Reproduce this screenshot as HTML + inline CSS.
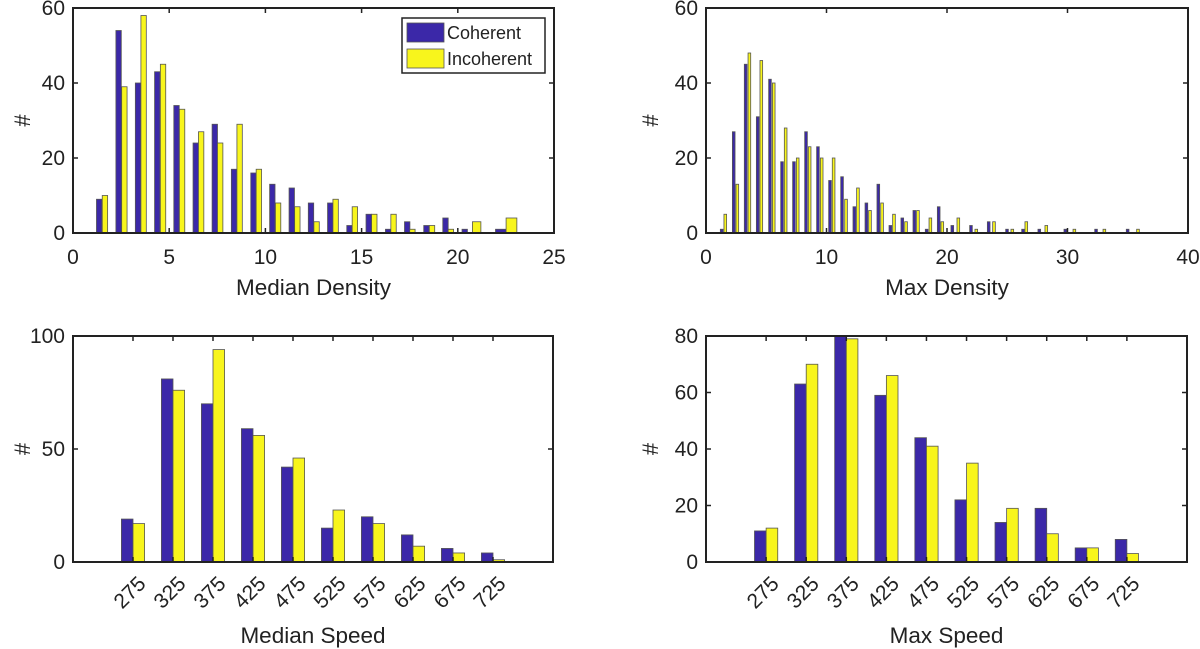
<!DOCTYPE html>
<html><head><meta charset="utf-8"><style>
body{margin:0;background:#fff;}
svg{display:block;font-family:"Liberation Sans",Arial,sans-serif;}
</style></head><body>
<svg id="fig" width="1200" height="649" viewBox="0 0 1200 649">
<g id="layer"></g>
</svg>
<script>
// ---- Median Density (top-left)
const mdCohX = [1.36,2.37,3.38,4.38,5.38,6.38,7.37,8.37,9.38,10.36,11.37,12.37,13.37,14.37,15.37,16.38,17.37,18.37,19.36,20.36,22.24];
const mdCohY = [9,54,40,43,34,24,29,17,16,13,12,8,8,2,5,1,3,2,4,1,1];
const mdCohW = [0.28,0.28,0.28,0.28,0.28,0.28,0.28,0.28,0.28,0.28,0.28,0.28,0.28,0.28,0.28,0.28,0.28,0.28,0.28,0.28,0.56];
const mdIncX = [1.66,2.67,3.67,4.68,5.67,6.66,7.65,8.66,9.66,10.66,11.66,12.66,13.65,14.65,15.66,16.66,17.64,18.66,19.64,20.98,22.79];
const mdIncY = [10,39,58,45,33,27,24,29,17,8,7,3,9,7,5,5,1,2,1,3,4];
const mdIncW = [0.28,0.28,0.28,0.28,0.28,0.28,0.28,0.28,0.28,0.28,0.28,0.28,0.28,0.28,0.28,0.28,0.28,0.28,0.28,0.44,0.56];
const mdXTicks = [0,5,10,15,20,25];
const mdYTicks = [0,20,40,60];
// ---- Max Density (top-right)
const xdCohX = [1.30,2.30,3.29,4.29,5.31,6.31,7.30,8.30,9.29,10.29,11.29,12.31,13.31,14.30,15.30,16.29,17.29,18.31,19.31,20.44,21.99,23.46,24.98,26.31,27.66,29.82,32.37,34.99];
const xdCohY = [1,27,45,31,41,19,19,27,23,14,15,7,8,13,2,4,6,1,7,2,2,3,1,1,1,1,1,1];
const xdIncX = [1.60,2.60,3.60,4.59,5.62,6.61,7.61,8.60,9.60,10.59,11.62,12.61,13.61,14.61,15.60,16.60,17.59,18.62,19.61,20.94,22.43,23.90,25.42,26.58,28.24,30.57,33.06,35.85];
const xdIncY = [5,13,48,46,40,28,20,23,20,20,9,12,6,8,5,3,6,4,3,4,1,3,1,3,2,1,1,1];
const xdXTicks = [0,10,20,30,40];
const xdYTicks = [0,20,40,60];
// ---- Speeds (bottom)
const speedCats = ["275","325","375","425","475","525","575","625","675","725"];
const msCoh = [19,81,70,59,42,15,20,12,6,4];
const msInc = [17,76,94,56,46,23,17,7,4,1];
const msYTicks = [0,50,100];
const xsCoh = [11,63,80,59,44,22,14,19,5,8];
const xsInc = [12,70,79,66,41,35,19,10,5,3];
const xsYTicks = [0,20,40,60,80];

const NS="http://www.w3.org/2000/svg";
const layer=document.getElementById('layer');
const BLUE="#3b28a8", YEL="#f8f51c", EDGE="#555";
function mk(tag,attrs,parent){const e=document.createElementNS(NS,tag);for(const k in attrs)e.setAttribute(k,attrs[k]);(parent||layer).appendChild(e);return e;}

function axes(name,L,R,T,B,xmin,xmax,ymin,ymax){
  const g=mk('g',{});
  
  
  const sx=v=>L+(v-xmin)/(xmax-xmin)*(R-L);
  const sy=v=>B-(v-ymin)/(ymax-ymin)*(B-T);
  return {g,sx,sy,L,R,T,B};
}
function frame(a){
  const r=mk('rect',{x:a.L,y:a.T,width:a.R-a.L,height:a.B-a.T,fill:'none',stroke:'#222','stroke-width':2},a.g);
  
  
}
function yTicks(a,ticks){
  ticks.forEach(t=>{
    const y=a.sy(t);
    mk('line',{x1:a.L,x2:a.L+5,y1:y,y2:y,stroke:'#222','stroke-width':1.5},a.g);
    mk('line',{x1:a.R,x2:a.R-5,y1:y,y2:y,stroke:'#222','stroke-width':1.5},a.g);
    const tx=mk('text',{x:a.L-8,y:y+7,'text-anchor':'end','font-size':21,fill:'#222'},a.g);
    tx.textContent=t;
    
    
  });
}
function xTicksNum(a,ticks){
  ticks.forEach(t=>{
    const x=a.sx(t);
    mk('line',{x1:x,x2:x,y1:a.B,y2:a.B-5,stroke:'#222','stroke-width':1.5},a.g);
    mk('line',{x1:x,x2:x,y1:a.T,y2:a.T+5,stroke:'#222','stroke-width':1.5},a.g);
    const tx=mk('text',{x:x,y:a.B+31,'text-anchor':'middle','font-size':21,fill:'#222'},a.g);
    tx.textContent=t;
    
    
  });
}
function labels(a,xl,yx,dy){
  const t=mk('text',{x:(a.L+a.R)/2,y:a.B+dy,'text-anchor':'middle','font-size':22.5,fill:'#222'},a.g);
  t.textContent=xl;
  
  
  const cy=(a.T+a.B)/2;
  const y=mk('text',{x:yx,y:cy,'text-anchor':'middle','font-size':22,fill:'#222',transform:`rotate(-90 ${yx} ${cy})`},a.g);
  y.textContent='#';
  
  
}
function bars(a,xs,ys,ws,color,series){
  xs.forEach((xv,i)=>{
    const x0=a.sx(xv-ws[i]/2), x1=a.sx(xv+ws[i]/2), y=a.sy(ys[i]);
    const r=mk('rect',{x:x0,y:y,width:x1-x0,height:a.B-y,fill:color,stroke:EDGE,'stroke-width':0.8},a.g);
    
    
  });
}

// Top-left
const a1=axes('median-density-plot',73,554,8,233,0,25,0,60);
bars(a1,mdCohX,mdCohY,mdCohW,BLUE,'coherent');
bars(a1,mdIncX,mdIncY,mdIncW,YEL,'incoherent');
frame(a1);yTicks(a1,mdYTicks);xTicksNum(a1,mdXTicks);labels(a1,'Median Density',30,62);
// legend
const lg=mk('g',{},a1.g);


mk('rect',{x:402,y:18,width:143,height:55,fill:'#fff',stroke:'#222','stroke-width':1.5},lg);
const p1=mk('rect',{x:407,y:23,width:37,height:19,fill:BLUE,stroke:EDGE,'stroke-width':0.8},lg);


const p2=mk('rect',{x:407,y:49,width:37,height:19,fill:YEL,stroke:EDGE,'stroke-width':0.8},lg);


const l1=mk('text',{x:447,y:39,'font-size':18,fill:'#222'},lg);l1.textContent='Coherent';


const l2=mk('text',{x:447,y:65,'font-size':18,fill:'#222'},lg);l2.textContent='Incoherent';



// Top-right
const a2=axes('max-density-plot',706,1188,8,233,0,40,0,60);
const w2c=xdCohX.map(()=>0.22), w2i=xdIncX.map(()=>0.22);
bars(a2,xdCohX,xdCohY,w2c,BLUE,'coherent');
bars(a2,xdIncX,xdIncY,w2i,YEL,'incoherent');
frame(a2);yTicks(a2,xdYTicks);xTicksNum(a2,xdXTicks);labels(a2,'Max Density',658,62);

// Bottom
function catPlot(name,L,R,ymax,coh,inc,yt,xl,yx){
  const a=axes(name,L,R,336,562,-0.5,11.5,0,ymax);
  const bw=0.29;
  const cw=coh.map(()=>bw), iw=inc.map(()=>bw);
  bars(a,speedCats.map((c,i)=>i+1-bw/2),coh,cw,BLUE,'coherent');
  bars(a,speedCats.map((c,i)=>i+1+bw/2),inc,iw,YEL,'incoherent');
  frame(a);yTicks(a,yt);
  speedCats.forEach((c,i)=>{
    const x=a.sx(i+1);
    mk('line',{x1:x,x2:x,y1:a.B,y2:a.B-5,stroke:'#222','stroke-width':1.5},a.g);
    mk('line',{x1:x,x2:x,y1:a.T,y2:a.T+5,stroke:'#222','stroke-width':1.5},a.g);
    const ax=x+14, ay=a.B+23;
    const tx=mk('text',{x:ax,y:ay,'text-anchor':'end','font-size':21,fill:'#222',transform:`rotate(-45 ${ax} ${ay})`},a.g);
    tx.textContent=c;
    
    
  });
  labels(a,xl,yx,81);
}
catPlot('median-speed-plot',73,553,100,msCoh,msInc,msYTicks,'Median Speed',30);
catPlot('max-speed-plot',706,1187,80,xsCoh,xsInc,xsYTicks,'Max Speed',658);
</script>
</body></html>
